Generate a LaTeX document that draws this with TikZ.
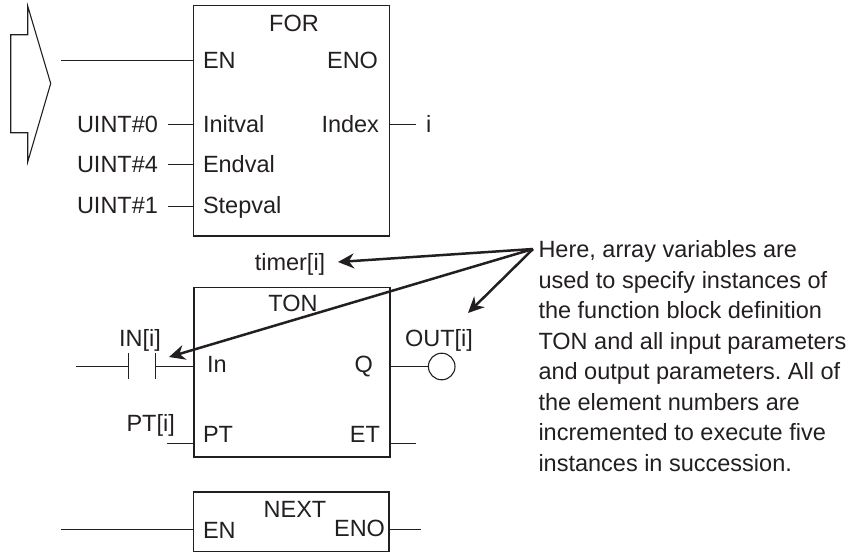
\documentclass[tikz,border=0pt]{standalone}
\usepackage{fontspec}
\setmainfont{Liberation Sans}
\usetikzlibrary{arrows.meta}
\frenchspacing
\definecolor{ink}{HTML}{231F20}
\tikzset{
  lbl/.style={inner sep=0pt,outer sep=0pt,text=ink,font=\fontsize{23.5}{28}\selectfont},
  lw/.style={lbl,anchor=base west},
  le/.style={lbl,anchor=base east},
  lc/.style={lbl,anchor=base},
  fb/.style={draw=ink,line width=1.1pt,inner sep=0pt,outer sep=0pt,fill=none},
  wire/.style={draw=ink,line width=1.1pt},
  callout/.style={draw=ink,line width=2.5pt,-{Stealth[length=16pt,width=15pt]},shorten >=0pt},
}
\begin{document}
\begin{tikzpicture}[x=1pt,y=-1pt]
\useasboundingbox (0,0) rectangle (861,552);
\draw[wire,line join=miter] (27.7,6) -- (50.7,83.5) -- (27.7,162) -- (27.7,132.7) -- (10.7,132.7) -- (10.7,34.7) -- (27.7,34.7) -- cycle;
% FOR block
\node[fb,minimum width=196pt,minimum height=230.3pt,anchor=north west] (for) at (193.5,5.7) {};
\node[lc] (fort) at (294,31.7) {FOR};
\node[lw] (foren) at (203,68.3) {EN};
\node[le] (foreno) at (378,68.3) {ENO};
\node[lw] (finit) at (203,132.7) {Initval};
\node[le] (findex) at (379,132.7) {Index};
\node[lw] (fend) at (203,172.3) {Endval};
\node[lw] (fstep) at (203,213.3) {Stepval};
\node[lw] (u0) at (77,132.7) {UINT\#0};
\node[lw] (u4) at (77,172.7) {UINT\#4};
\node[lw] (u1) at (77,213.7) {UINT\#1};
\node[lw] (iv) at (426,132.7) {i};
\coordinate (enstart) at (61,60.5);
\draw[wire] (enstart) -- (enstart -| for.west);
\coordinate (w0) at (168,124.5);
\coordinate (w4) at (168,164.5);
\coordinate (w1) at (168,206.5);
\coordinate (wi) at (416,124.5);
\draw[wire] (w0) -- (w0 -| for.west);
\draw[wire] (w4) -- (w4 -| for.west);
\draw[wire] (w1) -- (w1 -| for.west);
\draw[wire] (wi -| for.east) -- (wi);
% TON block
\node[lc] (timer) at (290,270) {timer[i]};
\node[fb,minimum width=196pt,minimum height=169.3pt,anchor=north west] (ton) at (194,287.7) {};
\node[lc] (tont) at (293,311.7) {TON};
\node[lc] (ini) at (140,346.7) {IN[i]};
\node[lc] (outi) at (439,346.7) {OUT[i]};
\node[lw] (tin) at (207,372.7) {In};
\node[le] (tq) at (373,372.7) {Q};
\node[lc] (pti) at (150.7,431.7) {PT[i]};
\node[lw] (tpt) at (203,442) {PT};
\node[le] (tet) at (380,442) {ET};
\coordinate (lstart) at (76,366.5);
\coordinate (c1) at (128.5,366.5);
\coordinate (c2) at (155.5,366.5);
\draw[wire] (lstart) -- (c1);
\draw[wire] (c2) -- (c2 -| ton.west);
\draw[wire] (128.5,353) -- (128.5,379);
\draw[wire] (155.5,353) -- (155.5,379);
\node[circle,draw=ink,line width=1.1pt,minimum size=26.6pt,inner sep=0pt,outer sep=0pt] (coil) at (441.7,366.5) {};
\draw[wire] (coil.west -| ton.east) -- (coil.west);
\coordinate (ptw) at (167,443.5);
\coordinate (etw) at (416,443.5);
\draw[wire] (ptw) -- (ptw -| ton.west);
\draw[wire] (etw -| ton.east) -- (etw);
% NEXT block
\node[fb,minimum width=195.5pt,minimum height=59.7pt,anchor=north west] (nx) at (193.5,492) {};
\node[lc] (nxt) at (295,517.7) {NEXT};
\node[lw] (nxen) at (203,538) {EN};
\node[le] (nxeno) at (385,536.7) {ENO};
\coordinate (nl) at (61,529.5);
\coordinate (nr) at (421,529.5);
\draw[wire] (nl) -- (nl -| nx.west);
\draw[wire] (nr -| nx.east) -- (nr);
% Callout
\node[lbl,anchor=north west,align=left,font=\fontsize{23.5}{30.5}\selectfont] (note) at (538.5,240.5) {Here, array variables are\\used to specify instances of\\the function block definition\\TON and all input parameters\\and output parameters. All of\\the element numbers are\\incremented to execute five\\instances in succession.};
\coordinate (o) at (533,249);
\coordinate (ttimer) at (338,262);
\coordinate (tin2) at (169,357);
\coordinate (tout) at (468,313);
\draw[callout] (o) -- (ttimer);
\draw[callout] (o) -- (tin2);
\draw[callout] (o) -- (tout);
\end{tikzpicture}
\end{document}
